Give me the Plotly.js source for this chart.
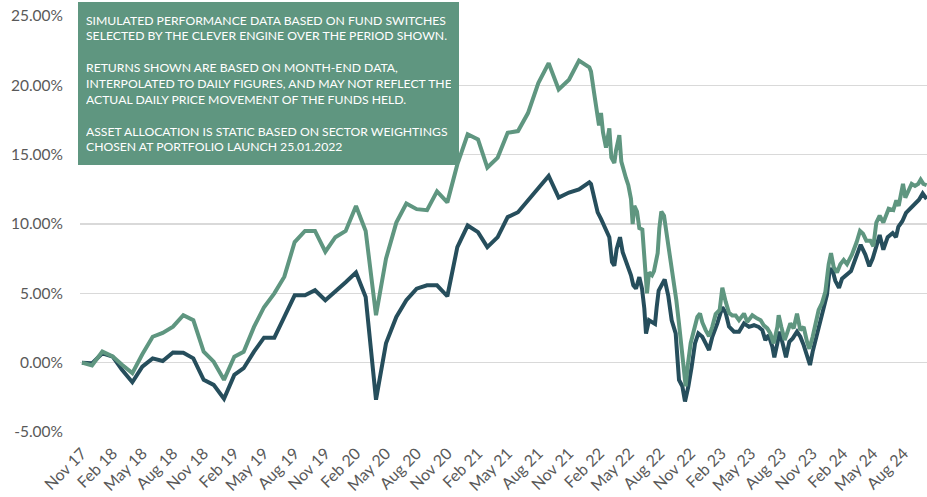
<!DOCTYPE html>
<html>
<head>
<meta charset="utf-8">
<script src="https://cdn.plot.ly/plotly-3.0.1.min.js"></script>
<style>
  html, body { margin: 0; padding: 0; background: #ffffff; }
  #chart { width: 927px; height: 497px; }
</style>
</head>
<body>
<div id="chart"></div>
<script>
// ---- Monthly history (month-end data), first month = Nov 2017 ----
const monthlyStart = '2017-11-01';
const greenMonthly = [0, -0.2, 0.8, 0.45, -0.15, -0.75, 0.6, 1.87, 2.15, 2.6,
  3.42, 3.06, 0.79, 0.07, -1.24, 0.43, 0.79, 2.58, 4.0, 5.0,
  6.2, 8.7, 9.5, 9.5, 8.0, 9.05, 9.5, 11.3, 9.5, 3.42,
  7.5, 10.1, 11.48, 11.07, 11.0, 12.35, 11.56, 14.3, 16.47, 16.1,
  14.07, 14.79, 16.58, 16.7, 18.0, 20.17, 21.6, 19.7, 20.4, 21.78, 21.3];
const darkMonthly = [0, -0.05, 0.67, 0.43, -0.52, -1.41, -0.29, 0.31, 0.12, 0.74,
  0.72, 0.31, -1.24, -1.6, -2.6, -0.88, -0.4, 0.79, 1.8, 1.8,
  3.3, 4.86, 4.86, 5.22, 4.5, 5.1, 5.8, 6.5, 4.74, -2.67,
  1.39, 3.3, 4.5, 5.34, 5.58, 5.58, 4.79, 8.33, 9.89, 9.41,
  8.33, 9.05, 10.5, 10.85, 11.7, 12.5, 13.46, 11.9, 12.27, 12.5, 13.0];

// ---- Daily section: days after 2022-01-01 and values (%) ----
const dailyStart = '2022-01-01';
const greenDays = [5, 14, 23, 29, 35, 41, 50, 60, 66, 75, 80, 90, 96, 102, 110, 117, 125, 130, 135, 143,
  150, 159, 167, 173, 179, 188, 194, 205, 210, 216, 224, 234, 241, 251, 261, 269, 277, 284, 289, 296,
  304, 314, 324, 332, 339, 349, 359, 369, 379, 391, 399, 409, 419, 429, 439, 449, 464, 474, 489, 504,
  514, 523, 534, 543, 553, 564, 568, 576, 586, 593, 603, 613, 623, 633, 643, 653, 660, 670, 678, 688,
  698, 708, 718, 725, 733, 743, 753, 763, 773, 788, 802, 812, 821, 831, 843, 852, 861, 871, 882, 898,
  912, 921, 928, 941, 948, 957, 967, 977, 987, 994, 1002, 1012];
const greenDaily = [21.0, 19.5, 18.3, 17.1, 18.0, 16.6, 15.5, 16.9, 14.8, 14.4, 15.3, 16.4, 14.5, 13.9, 13.3, 12.8, 11.8, 10.0, 11.3, 10.9,
  9.7, 9.6, 7.0, 5.0, 6.5, 6.3, 6.6, 7.9, 9.7, 10.9, 10.6, 9.05, 7.6, 6.2, 4.5, 2.8, 1.15, -0.5, -1.7, -0.05,
  1.4, 2.35, 3.3, 3.55, 2.9, 2.35, 1.9, 2.6, 3.5, 3.8, 5.4, 4.4, 3.6, 3.4, 3.4, 3.06, 3.54, 2.94, 3.42, 3.18,
  3.06, 2.7, 2.47, 2.11, 1.39, 2.58, 3.42, 2.58, 1.63, 2.11, 2.83, 2.47, 3.54, 2.35, 2.58, 1.51, 1.0, 1.87, 2.9, 3.8,
  4.3, 5.1, 7.1, 7.9, 6.9, 6.5, 7.1, 7.4, 7.1, 7.8, 8.7, 9.5, 9.3, 8.8, 8.8, 8.4, 10.1, 10.6, 10.1, 11.1,
  11.0, 11.7, 11.3, 12.9, 11.9, 12.4, 12.9, 12.75, 12.9, 13.2, 12.9, 12.8];
const darkDays = [5, 15, 25, 35, 42, 50, 60, 68, 75, 82, 92, 100, 108, 115, 125, 132, 140, 150, 158, 165,
  170, 179, 191, 197, 202, 208, 226, 237, 247, 259, 269, 279, 287, 297, 307, 317, 327, 339, 349, 359,
  369, 384, 399, 409, 419, 434, 449, 464, 479, 494, 508, 519, 528, 538, 549, 555, 564, 571, 580, 590,
  600, 610, 623, 633, 643, 653, 662, 670, 681, 693, 703, 713, 720, 728, 738, 749, 758, 772, 785, 800,
  814, 828, 840, 850, 860, 871, 882, 895, 910, 920, 927, 939, 950, 962, 974, 989, 1000, 1007, 1012];
const darkDaily = [12.88, 11.8, 10.84, 10.37, 10.0, 9.53, 9.05, 7.25, 7.0, 8.2, 9.05, 7.97, 7.49, 6.89, 6.3, 5.58, 5.34, 6.17, 5.34, 3.9,
  2.1, 3.06, 2.9, 2.8, 4.0, 5.2, 6.0, 4.8, 3.06, 2.11, -1.24, -1.7, -2.8, -1.72, -0.29, 1.39, 2.11, 1.87, 1.39, 0.91,
  1.87, 2.83, 4.0, 3.6, 2.6, 2.23, 2.23, 2.83, 2.58, 2.7, 2.58, 2.35, 1.63, 1.99, 1.15, 0.39, 1.39, 2.23, 1.39, 0.39,
  1.51, 1.75, 2.23, 1.87, 1.27, 0.39, -0.17, 0.8, 1.9, 3.2, 4.1, 4.9, 6.5, 6.8, 5.9, 5.4, 6.05, 6.3, 6.6, 7.6,
  8.5, 7.8, 6.95, 7.5, 8.4, 9.2, 8.15, 9.05, 9.35, 9.05, 9.8, 10.2, 10.8, 11.1, 11.3, 11.75, 12.2, 11.95, 11.8];

const yTicks = [-5, 0, 5, 10, 15, 20, 25];
const noteLines = [
  'SIMULATED PERFORMANCE DATA BASED ON FUND SWITCHES',
  'SELECTED BY THE CLEVER ENGINE OVER THE PERIOD SHOWN.',
  '',
  'RETURNS SHOWN ARE BASED ON MONTH-END DATA,',
  'INTERPOLATED TO DAILY FIGURES, AND MAY NOT REFLECT THE',
  'ACTUAL DAILY PRICE MOVEMENT OF THE FUNDS HELD.',
  '',
  'ASSET ALLOCATION IS STATIC BASED ON SECTOR WEIGHTINGS',
  'CHOSEN AT PORTFOLIO LAUNCH 25.01.2022'
];

// ---- build date strings ----
function iso(d) {
  return d.getUTCFullYear() + '-' + String(d.getUTCMonth() + 1).padStart(2, '0') + '-' + String(d.getUTCDate()).padStart(2, '0');
}
function monthDates(start, n) {
  const s = new Date(start + 'T00:00:00Z');
  const out = [];
  for (let i = 0; i < n; i++) out.push(iso(new Date(Date.UTC(s.getUTCFullYear(), s.getUTCMonth() + i, 1))));
  return out;
}
function dayDates(start, days) {
  const s = new Date(start + 'T00:00:00Z').getTime();
  return days.map(d => iso(new Date(s + d * 86400000)));
}
const mDates = monthDates(monthlyStart, greenMonthly.length);

const greenX = mDates.concat(dayDates(dailyStart, greenDays));
const greenY = greenMonthly.concat(greenDaily);
const darkX = mDates.concat(dayDates(dailyStart, darkDays));
const darkY = darkMonthly.concat(darkDaily);

const GREEN = '#5f9680';
const DARK = '#264e5c';

const traces = [
  { x: darkX, y: darkY, type: 'scatter', mode: 'lines', line: { color: DARK, width: 4 }, hoverinfo: 'skip' },
  { x: greenX, y: greenY, type: 'scatter', mode: 'lines', line: { color: GREEN, width: 4 }, hoverinfo: 'skip' }
];

const layout = {
  width: 927, height: 497,
  margin: { l: 80, r: 0, t: 16, b: 65 },
  paper_bgcolor: '#ffffff', plot_bgcolor: '#ffffff',
  showlegend: false,
  font: { family: 'Lato, "Open Sans", sans-serif', color: '#595959' },
  xaxis: {
    type: 'date',
    range: ['2017-10-26', '2024-10-10'],
    tick0: '2017-11-01', dtick: 'M3', tickformat: '%b %y',
    tickangle: -45,
    tickfont: { size: 16, color: '#595959' },
    showgrid: false, zeroline: false, showline: false, ticks: '',
    ticklabelstandoff: 8,
    fixedrange: true
  },
  yaxis: {
    range: [-5, 25],
    tickvals: yTicks,
    ticktext: yTicks.map(v => v.toFixed(2) + '%'),
    tickfont: { size: 15.5, color: '#595959' },
    showgrid: true, gridcolor: '#d9d9d9', gridwidth: 1.5,
    zeroline: false, showline: false, ticks: '',
    ticklabelstandoff: 16,
    fixedrange: true
  },
  annotations: [{
    xref: 'paper', yref: 'paper',
    x: -0.0024, y: 1.0337, xanchor: 'left', yanchor: 'top',
    showarrow: false,
    text: noteLines.join('<br>'),
    align: 'left', valign: 'middle',
    width: 365, height: 147,
    borderpad: 8, borderwidth: 0,
    bgcolor: GREEN,
    font: { family: 'Lato, "Open Sans", sans-serif', size: 12.2, color: '#ffffff' }
  }]
};

Plotly.newPlot('chart', traces, layout, { displayModeBar: false, staticPlot: true });
</script>
</body>
</html>
